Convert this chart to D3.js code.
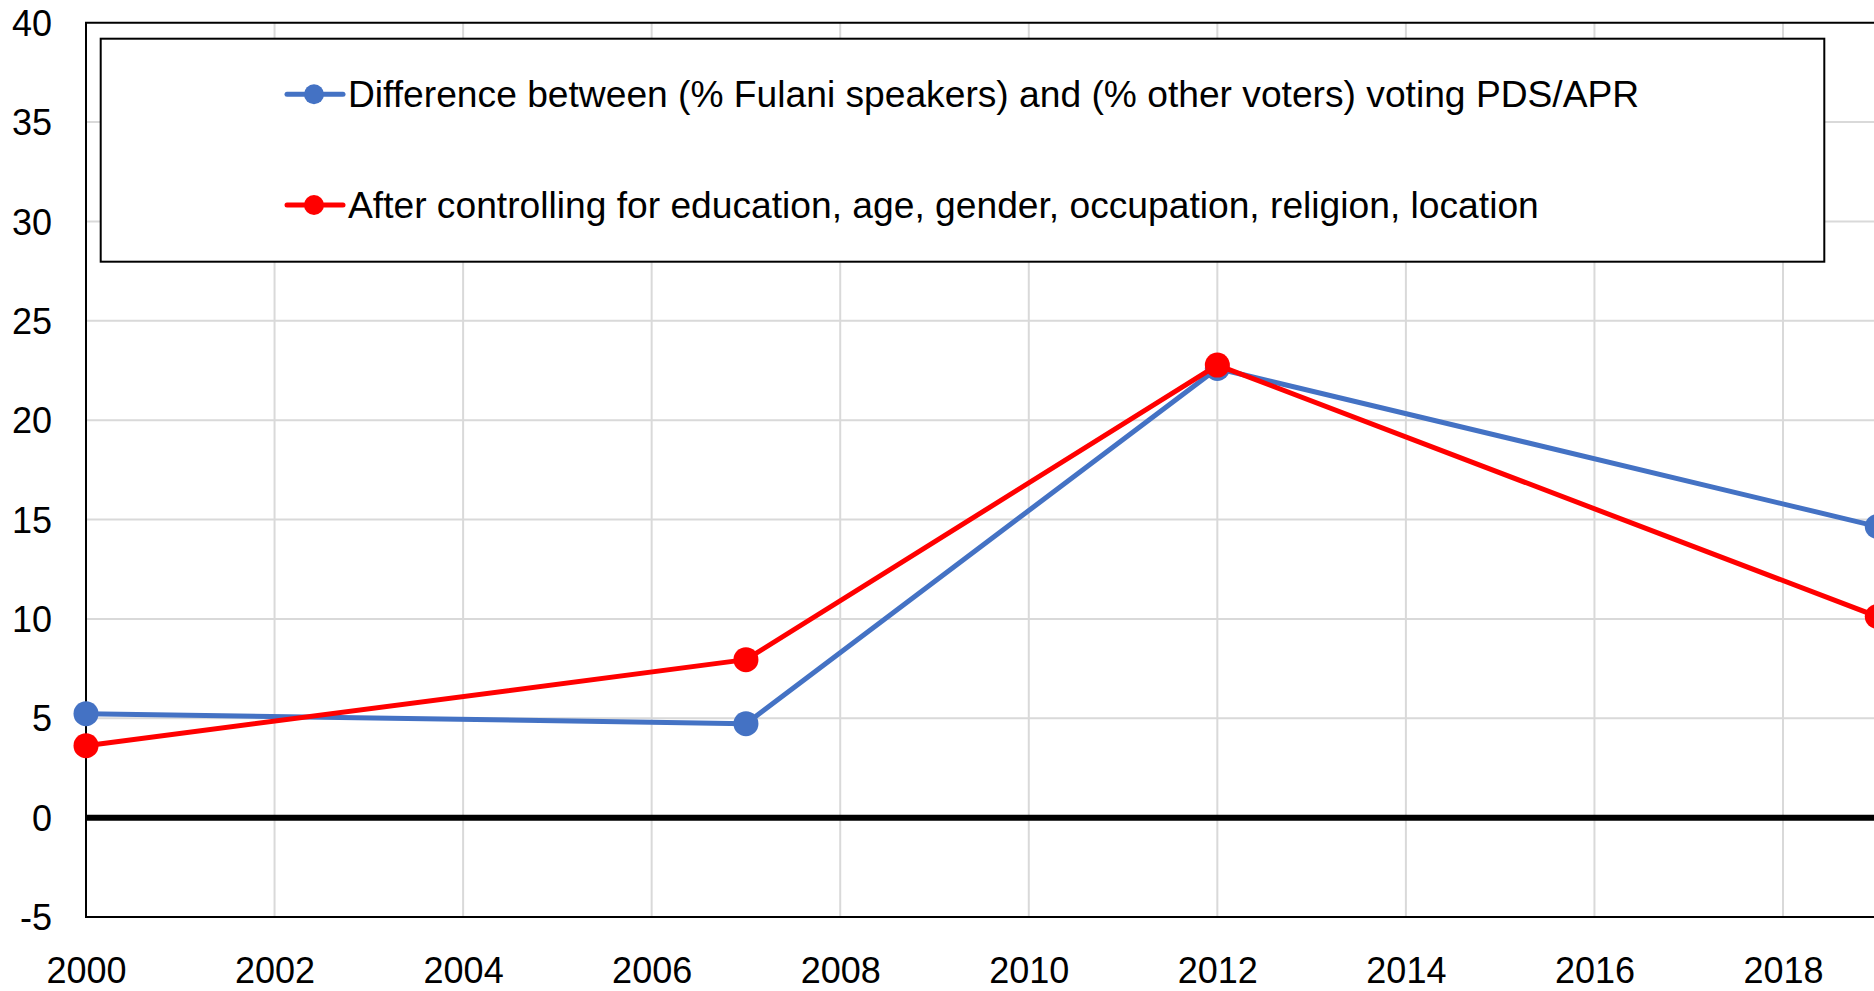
<!DOCTYPE html>
<html>
<head>
<meta charset="utf-8">
<script src="https://cdn.jsdelivr.net/npm/d3@7"></script>
<style>
    body { margin: 0; background: #fff; }
    svg { display: block; font-family: "Liberation Sans", Arial, sans-serif; }
</style>
</head>
<body>
<svg id="chart"></svg>
<script>
// data
const years = [2000, 2007, 2012, 2019];
const fulaniGap = [5.23, 4.73, 22.6, 14.65];
const fulaniGapControlled = [3.62, 7.95, 22.77, 10.12];
const seriesNames = [
    "Difference between (% Fulani speakers) and (% other voters) voting PDS/APR",
    "After controlling for education, age, gender, occupation, religion, location"
];
const xTicks = [2000, 2002, 2004, 2006, 2008, 2010, 2012, 2014, 2016, 2018];
const yTicks = [-5, 0, 5, 10, 15, 20, 25, 30, 35, 40];

const width = 1874,
    height = 991;
const margin = { top: 22.7, left: 86, bottom: 917 };
const lineColors = ["#4472C4", "#FF0000"];
const fontSize = 36;
const legendFontSize = 37.2;

const svg = d3.select("#chart").attr("width", width).attr("height", height);

// 2000 -> 86px, 2018 -> 1783px ; axis runs on past the right edge
const x = d3.scaleLinear()
    .domain([2000, 2018])
    .range([margin.left, 1783]);

const y = d3.scaleLinear()
    .domain([-5, 40])
    .range([margin.bottom, margin.top]);

const plotRight = x(2020);

// gridlines
svg.append("g")
    .selectAll("line")
    .data(xTicks.slice(1))
    .join("line")
    .attr("x1", d => x(d))
    .attr("x2", d => x(d))
    .attr("y1", y(40))
    .attr("y2", y(-5))
    .attr("stroke", "#d9d9d9")
    .attr("stroke-width", 2);

svg.append("g")
    .selectAll("line")
    .data(yTicks.filter(d => d != 0 && d != -5 && d != 40))
    .join("line")
    .attr("x1", margin.left)
    .attr("x2", plotRight)
    .attr("y1", d => y(d))
    .attr("y2", d => y(d))
    .attr("stroke", "#d9d9d9")
    .attr("stroke-width", 2);

// frame
svg.append("path")
    .attr("d", `M${plotRight},${y(40)}H${margin.left}V${y(-5)}H${plotRight}`)
    .attr("fill", "none")
    .attr("stroke", "#000")
    .attr("stroke-width", 2);

// zero line
svg.append("line")
    .attr("x1", margin.left)
    .attr("x2", plotRight)
    .attr("y1", y(0))
    .attr("y2", y(0))
    .attr("stroke", "#000")
    .attr("stroke-width", 6);

// axes (labels only), plain hyphen for negatives like the original
const yAxis = g => g
    .attr("transform", `translate(${margin.left},0)`)
    .call(d3.axisLeft(y).tickValues(yTicks).tickFormat(d => String(d)).tickSize(0).tickPadding(34))
    .call(g => g.select(".domain").remove())
    .selectAll("text")
    .attr("fill", "#000")
    .attr("dy", "0.35em")
    .style("font-size", fontSize + "px");

const xAxis = g => g
    .attr("transform", `translate(0,${margin.bottom})`)
    .call(d3.axisBottom(x).tickValues(xTicks).tickFormat(d => String(d)).tickSize(0).tickPadding(40))
    .call(g => g.select(".domain").remove())
    .selectAll("text")
    .attr("fill", "#000")
    .attr("dy", "0.71em")
    .style("font-size", fontSize + "px");

svg.append("g").call(yAxis);
svg.append("g").call(xAxis);

// series
const series = [fulaniGap, fulaniGapControlled];
const line = d3.line()
    .x((d, i) => x(years[i]))
    .y(d => y(d));

series.forEach((values, i) => {
    svg.append("path")
        .datum(values)
        .attr("fill", "none")
        .attr("stroke", lineColors[i])
        .attr("stroke-width", 5)
        .attr("stroke-linejoin", "round")
        .attr("d", line);

    svg.append("g")
        .selectAll("circle")
        .data(values)
        .join("circle")
        .attr("cx", (d, j) => x(years[j]))
        .attr("cy", d => y(d))
        .attr("r", 12.5)
        .attr("fill", lineColors[i]);
});

// legend
const legendBox = { x: 100.7, y: 38.7, w: 1723.6, h: 223 };
svg.append("rect")
    .attr("x", legendBox.x)
    .attr("y", legendBox.y)
    .attr("width", legendBox.w)
    .attr("height", legendBox.h)
    .attr("fill", "#fff")
    .attr("stroke", "#000")
    .attr("stroke-width", 2);

const legendRows = [94.3, 205];
const legend = svg.append("g")
    .selectAll("g")
    .data(seriesNames)
    .join("g")
    .attr("transform", (d, i) => `translate(287,${legendRows[i]})`);

legend.append("line")
    .attr("x1", 0)
    .attr("x2", 56)
    .attr("stroke", (d, i) => lineColors[i])
    .attr("stroke-width", 5)
    .attr("stroke-linecap", "round");

legend.append("circle")
    .attr("cx", 27)
    .attr("r", 10)
    .attr("fill", (d, i) => lineColors[i]);

legend.append("text")
    .attr("x", 61)
    .attr("y", 12.8)
    .attr("fill", "#000")
    .style("font-size", legendFontSize + "px")
    .text(d => d);
</script>
</body>
</html>
